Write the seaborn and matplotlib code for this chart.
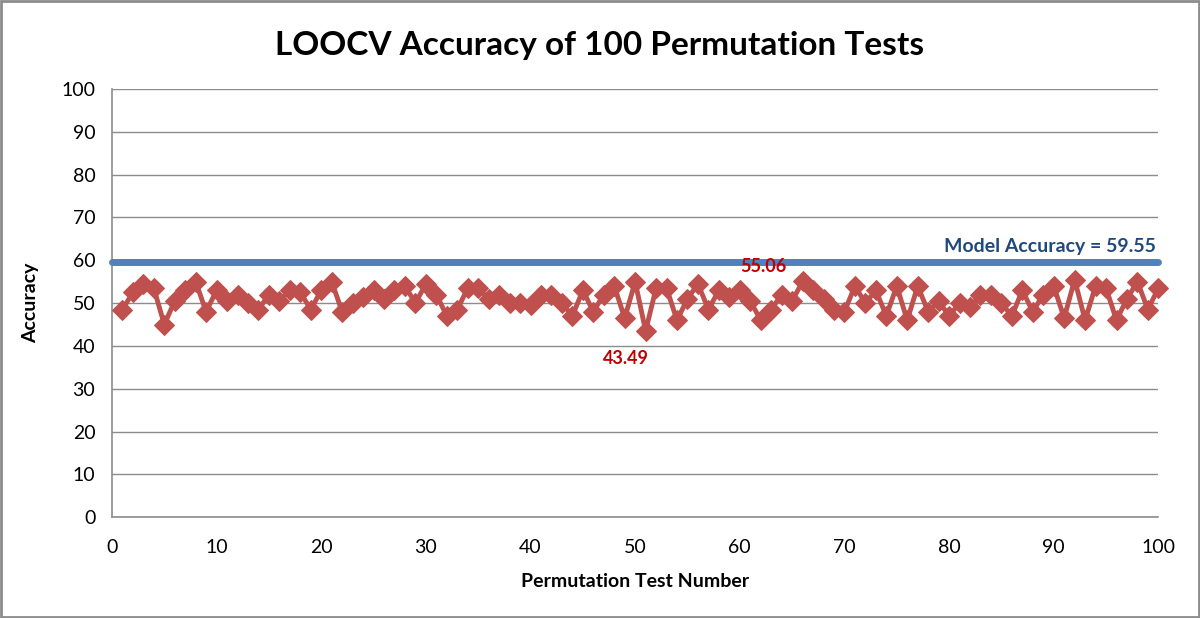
import matplotlib
matplotlib.use("Agg")
import matplotlib.pyplot as plt
import numpy as np
import pandas as pd
import seaborn as sns

# permutation test accuracies
test_number = list(range(1, 101))
accuracy = [
    48.5, 52.5, 54.5, 53.5, 45.0, 50.5, 53.0, 55.0, 48.0, 53.0,
    50.5, 52.0, 50.0, 48.5, 52.0, 50.5, 53.0, 52.5, 48.5, 53.0,
    55.0, 48.0, 50.0, 51.5, 53.0, 51.0, 53.0, 54.0, 50.0, 54.5,
    52.0, 47.0, 48.5, 53.5, 53.5, 51.0, 52.0, 50.0, 50.0, 49.5,
    52.0, 52.0, 50.0, 47.0, 53.0, 48.0, 52.0, 54.0, 46.5, 55.0,
    43.49, 53.5, 53.5, 46.0, 51.0, 54.5, 48.5, 53.0, 51.5, 53.0,
    50.5, 46.0, 48.5, 52.0, 50.5, 55.06, 53.0, 51.0, 48.5, 48.0,
    54.0, 50.0, 53.0, 47.0, 54.0, 46.0, 54.0, 48.0, 50.5, 47.0,
    50.0, 49.0, 52.0, 52.0, 50.0, 47.0, 53.0, 48.0, 52.0, 54.0,
    46.5, 55.5, 46.0, 54.0, 53.5, 46.0, 51.0, 55.0, 48.5, 53.5,
]
model_accuracy = 59.55
model_x = [0, 100]
model_y = [model_accuracy, model_accuracy]
min_idx = 50   # test 51
max_idx = 65   # test 66

df = pd.DataFrame({"test": test_number, "accuracy": accuracy})

sns.set_theme(style="white")
plt.rcParams["font.family"] = ["Lato", "DejaVu Sans"]
plt.rcParams["text.color"] = "black"
plt.rcParams["axes.labelcolor"] = "black"
plt.rcParams["xtick.color"] = "black"
plt.rcParams["ytick.color"] = "black"

fig = plt.figure(figsize=(12, 6.18), dpi=100)
ax = fig.add_axes([0.0933, 0.163, 0.872, 0.693])

# model accuracy reference line
ax.plot(model_x, model_y, color="#4F81BD", lw=5, solid_capstyle="round",
        zorder=3, clip_on=False)
ax.text(99.8, model_accuracy + 1.6, "Model Accuracy = 59.55", color="#1F497D",
        fontsize=14, fontweight="bold", ha="right", va="bottom")

sns.lineplot(data=df, x="test", y="accuracy", ax=ax, color="#C0504D", lw=3.5,
             marker="D", markersize=10, markeredgecolor="#C0504D", zorder=4,
             clip_on=False)

ax.annotate(f"{accuracy[min_idx]:.2f}", (test_number[min_idx], accuracy[min_idx]),
            xytext=(-14, -14), textcoords="offset points", ha="center", va="top",
            color="#C00000", fontsize=13, fontweight="bold")
ax.annotate(f"{accuracy[max_idx]:.2f}", (test_number[max_idx], accuracy[max_idx]),
            xytext=(-28, 5), textcoords="offset points", ha="center", va="bottom",
            color="#C00000", fontsize=13, fontweight="bold")

ax.set_xlim(0, 100)
ax.set_ylim(0, 100)
ax.set_xticks(range(0, 101, 10))
ax.set_yticks(range(0, 101, 10))
ax.yaxis.grid(True, color="#8C8C8C", lw=1)
ax.set_axisbelow(True)
for s in ["top", "right"]:
    ax.spines[s].set_visible(False)
for s in ["left", "bottom"]:
    ax.spines[s].set_color("#8C8C8C")
    ax.spines[s].set_linewidth(1.2)
ax.tick_params(axis="y", labelsize=14, length=0, pad=12)
ax.tick_params(axis="x", labelsize=14, length=0, pad=16)

ax.set_xlabel("Permutation Test Number", fontsize=14, fontweight="bold", labelpad=12)
ax.set_ylabel("Accuracy", fontsize=14, fontweight="bold", labelpad=16)
fig.text(0.5, 0.927, "LOOCV Accuracy of 100 Permutation Tests", ha="center", va="center",
         fontsize=24, fontweight="bold")

# outer chart border
fig.patches.append(plt.Rectangle((0.001, 0.002), 0.998, 0.996, transform=fig.transFigure,
                                 fill=False, edgecolor="#8C8C8C", lw=2))

fig.savefig("out.png", dpi=100)
